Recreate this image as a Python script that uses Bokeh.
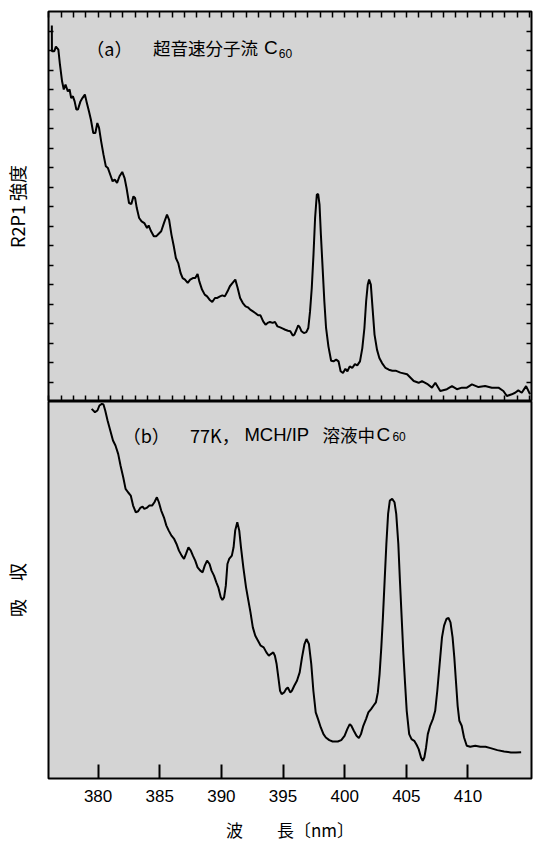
from bokeh.plotting import figure
from bokeh.models import Range1d, LinearAxis, FixedTicker, Label
from bokeh.layouts import column
from bokeh.embed import file_html
from bokeh.resources import INLINE

# ---------------- data ----------------
# (a) supersonic jet C60, R2PI intensity (arbitrary units, one unit = one side tick)
wl_a = [376.25, 376.26, 376.45, 376.58, 376.78, 376.91, 377.08, 377.22, 377.36, 377.55,
        377.69, 377.82, 377.96, 378.10, 378.24, 378.37, 378.57, 378.73, 378.93, 379.06,
        379.26, 379.42, 379.61, 379.78, 379.94, 380.08, 380.25, 380.44, 380.63, 380.80,
        380.99, 381.18, 381.35, 381.54, 381.74, 381.96, 382.15, 382.31, 382.51, 382.70,
        382.87, 383.00, 383.14, 383.33, 383.53, 383.75, 383.97, 384.10, 384.30, 384.52,
        384.71, 384.90, 385.12, 385.34, 385.59, 385.76, 385.95, 386.14, 386.31, 386.50,
        386.69, 386.86, 387.05, 387.27, 387.47, 387.69, 387.88, 388.07, 388.21, 388.43,
        388.65, 388.84, 389.04, 389.26, 389.48, 389.67, 389.89, 390.08, 390.28, 390.50,
        390.69, 390.91, 391.13, 391.32, 391.52, 391.74, 391.96, 392.15, 392.34, 392.56,
        392.75, 392.98, 393.17, 393.39, 393.58, 393.75, 393.94, 394.16, 394.35, 394.55,
        394.77, 394.99, 395.18, 395.40, 395.59, 395.79, 395.92, 396.09, 396.23, 396.36,
        396.50, 396.69, 396.89, 397.05, 397.19, 397.33, 397.47, 397.60, 397.74, 397.85,
        397.96, 398.07, 398.21, 398.35, 398.49, 398.68, 398.90, 399.09, 399.31, 399.50,
        399.67, 399.86, 400.06, 400.22, 400.41, 400.61, 400.83, 401.02, 401.24, 401.43,
        401.60, 401.74, 401.87, 401.98, 402.12, 402.26, 402.42, 402.62, 402.81, 403.03,
        403.31, 403.58, 403.86, 404.13, 404.52,
        405.06, 405.60, 406.00, 406.27, 406.68, 407.08, 407.35, 407.75, 408.29, 408.70,
        409.10, 409.51, 409.91, 410.32, 410.85, 411.39, 411.93, 412.47, 412.87, 413.15,
        413.55, 413.82, 414.08, 414.36, 414.71, 415.03]
int_a = [18.28, 16.96, 16.96, 17.20, 17.04, 16.27, 15.42, 15.00, 15.25, 14.90,
         15.00, 14.56, 14.65, 14.39, 13.97, 13.97, 14.39, 14.56, 14.74, 14.39,
         13.88, 13.45, 12.77, 12.77, 13.28, 13.03, 12.34, 11.66, 11.06, 10.97,
         10.63, 10.29, 10.38, 10.21, 10.55, 10.77, 10.46, 9.95, 9.18, 9.13,
         9.52, 9.44, 8.92, 8.41, 8.24, 8.15, 7.90, 8.03, 7.73, 7.47,
         7.47, 7.59, 7.73, 8.15, 8.58, 8.32, 7.56, 6.96, 6.36, 6.10,
         5.59, 5.33, 5.25, 5.08, 5.25, 5.33, 5.33, 5.54, 5.16, 4.74,
         4.48, 4.39, 4.22, 4.10, 4.31, 4.31, 4.39, 4.44, 4.39, 4.65,
         4.91, 5.08, 5.25, 4.82, 4.31, 4.05, 3.88, 3.83, 3.71, 3.62,
         3.54, 3.42, 3.42, 3.11, 2.94, 3.03, 3.08, 3.03, 3.08, 2.85,
         2.80, 2.74, 2.68, 2.63, 2.60, 2.38, 2.43, 2.68, 2.91, 2.80,
         2.60, 2.51, 2.56, 2.77, 3.62, 4.82, 6.53, 8.41, 9.61, 9.64,
         9.09, 7.56, 5.85, 4.14, 2.77, 1.83, 1.09, 1.06, 1.15, 1.06,
         0.55, 0.46, 0.68, 0.55, 0.80, 0.72, 0.92, 0.85, 1.06, 1.74,
         2.77, 4.14, 4.99, 5.25, 4.99, 3.79, 2.43, 1.66, 1.23, 0.97,
         0.72, 0.63, 0.58, 0.58, 0.48,
         0.40, 0.05, -0.04, 0.05, -0.09, -0.29, -0.04, -0.46, -0.37, -0.21,
         -0.37, -0.29, -0.29, -0.12, -0.26, -0.21, -0.29, -0.29, -0.46, -0.72,
         -0.63, -0.55, -0.43, -0.55, -0.21, -0.63]

# (b) 77 K, C60 in MCH/IP solution, absorption (arbitrary units)
wl_b = [379.48, 379.75, 379.95, 380.11, 380.31, 380.44, 380.58, 380.77, 380.99, 381.21,
        381.41, 381.63, 381.82, 382.04, 382.23, 382.43, 382.65, 382.84, 383.06, 383.25,
        383.42, 383.61, 383.75, 383.94, 384.16, 384.38, 384.57, 384.77, 384.93, 385.12,
        385.34, 385.54, 385.73, 385.95, 386.17, 386.36, 386.56, 386.78, 386.97, 387.13,
        387.33, 387.52, 387.69, 387.88, 388.07, 388.29, 388.48, 388.65, 388.84, 389.04,
        389.20, 389.40, 389.59, 389.75, 389.95, 390.08, 390.22, 390.36, 390.49, 390.63,
        390.85, 390.99, 391.12, 391.29, 391.45, 391.59, 391.78, 392.00, 392.19, 392.36,
        392.55, 392.75, 392.97, 393.19, 393.43, 393.65, 393.85, 394.01, 394.21, 394.34,
        394.48, 394.62, 394.76, 394.89, 395.09, 395.25, 395.39, 395.58, 395.72, 395.91,
        396.13, 396.35, 396.54, 396.74, 396.90, 397.10, 397.29, 397.46, 397.65, 397.84,
        398.06, 398.28, 398.47, 398.75, 399.02, 399.44, 399.72, 399.99, 400.21, 400.41,
        400.54, 400.74, 400.96, 401.15, 401.32, 401.51, 401.73, 401.92, 402.14, 402.33,
        402.53, 402.69, 402.83, 402.97, 403.10, 403.24, 403.38, 403.52, 403.66, 403.85,
        404.04, 404.18, 404.35, 404.48, 404.62, 404.76, 404.90, 405.03, 405.23, 405.42,
        405.64, 405.83, 406.00, 406.19, 406.33, 406.46, 406.60, 406.74, 406.93, 407.15,
        407.34, 407.51, 407.70, 407.89, 408.06, 408.25, 408.42, 408.58, 408.75, 408.89,
        409.02, 409.16, 409.30, 409.49, 409.68, 409.90, 410.18, 410.59, 411.00, 411.42,
        411.83, 412.38, 412.93, 413.48, 413.89, 414.31]
abs_b = [11.08, 10.98, 11.03, 11.18, 11.23, 11.21, 11.03, 10.73, 10.43, 10.13,
         9.98, 9.73, 9.38, 9.03, 8.68, 8.58, 8.48, 8.18, 7.98, 8.01,
         8.11, 8.15, 8.08, 8.11, 8.18, 8.18, 8.28, 8.43, 8.28, 8.03,
         7.83, 7.58, 7.43, 7.28, 7.18, 7.03, 6.83, 6.68, 6.58, 6.73,
         6.93, 6.83, 6.68, 6.53, 6.33, 6.23, 6.18, 6.38, 6.53, 6.43,
         6.23, 6.08, 5.88, 5.73, 5.43, 5.35, 5.43, 5.78, 6.43, 6.58,
         6.68, 6.93, 7.43, 7.68, 7.43, 6.93, 6.33, 5.73, 5.33, 4.98,
         4.53, 4.28, 4.13, 3.98, 3.93, 3.78, 3.68, 3.73, 3.78, 3.68,
         3.43, 3.03, 2.63, 2.53, 2.58, 2.68, 2.73, 2.58, 2.63, 2.78,
         2.93, 3.18, 3.63, 4.03, 4.18, 4.03, 3.43, 2.63, 1.98, 1.78,
         1.53, 1.33, 1.23, 1.15, 1.11, 1.11, 1.15, 1.28, 1.48, 1.63,
         1.58, 1.43, 1.28, 1.21, 1.33, 1.58, 1.78, 1.98, 2.08, 2.18,
         2.28, 2.58, 3.13, 3.93, 4.83, 5.93, 7.03, 7.93, 8.33, 8.38,
         8.28, 7.93, 7.03, 5.93, 4.83, 3.73, 2.83, 2.03, 1.33, 1.18,
         1.13, 1.01, 0.88, 0.63, 0.53, 0.63, 0.93, 1.33, 1.58, 1.78,
         2.03, 2.63, 3.43, 4.23, 4.58, 4.78, 4.81, 4.68, 4.23, 3.63,
         2.93, 2.18, 1.73, 1.58, 1.23, 0.98, 0.95, 0.98, 0.95, 0.95,
         0.91, 0.85, 0.81, 0.78, 0.78, 0.79]

x_major = [380, 385, 390, 395, 400, 405, 410]
x_minor_a = list(range(376, 416))
y_side_ticks_a = list(range(0, 19))

title_a_tag = "（a）"
title_a_text = "超音速分子流"
title_b_tag = "（b）"
title_b_temp = "77K，"
title_b_solv = "MCH/IP"
title_b_text = "溶液中"
c_letter = "C"
sub_60 = "60"
ylabel_a = "R2P1 強度"
ylabel_b = "吸　収"
xlabel = "波　　長〔nm〕"

# ---------------- style ----------------
CJK = "Noto Sans CJK JP"
LAT = "Liberation Sans"
BG = "#d4d4d4"
XR = Range1d(375.98, 415.15)


def tick_axis(minor, tin):
    # axis that draws only (unlabelled) inward tick marks
    return LinearAxis(ticker=FixedTicker(ticks=[], minor_ticks=minor),
                      major_tick_in=0, major_tick_out=0,
                      minor_tick_in=tin, minor_tick_out=0,
                      minor_tick_line_width=1.5, minor_tick_line_color="black",
                      major_label_standoff=0, axis_line_color=None)


common = dict(x_range=XR, x_axis_type=None, y_axis_type=None,
              output_backend="svg", toolbar_location=None,
              background_fill_color=BG, border_fill_color="white",
              outline_line_color="black", outline_line_width=2,
              min_border_left=47, min_border_right=3)


def add_text(p, x, y, text, font, size):
    p.add_layout(Label(x=x, y=y, text=text, text_font=font, text_font_size=size,
                       text_baseline="middle", text_align="left", text_color="black"))


# top panel
p1 = figure(width=534, height=401, y_range=Range1d(-1, 19),
            min_border_top=11, min_border_bottom=0, **common)
p1.add_layout(tick_axis(x_minor_a, 6), "below")
p1.add_layout(tick_axis(x_minor_a, 6), "above")
la = tick_axis(y_side_ticks_a, 5)
la.axis_label = ylabel_a
la.axis_label_text_font = CJK
la.axis_label_text_font_size = "18px"
la.axis_label_text_font_style = "normal"
la.axis_label_text_color = "black"
la.axis_label_standoff = 19
p1.add_layout(la, "left")
p1.add_layout(tick_axis(y_side_ticks_a, 5), "right")

p1.line(wl_a, int_a, line_color="black", line_width=2)
add_text(p1, 379.05, 17.13, title_a_tag, CJK, "18px")
add_text(p1, 384.45, 17.13, title_a_text, CJK, "17.5px")
add_text(p1, 393.45, 17.13, c_letter, LAT, "19px")
add_text(p1, 394.65, 16.87, sub_60, LAT, "12px")

# bottom panel
p2 = figure(width=534, height=443, y_range=Range1d(0, 11.3),
            min_border_top=0, min_border_bottom=66, **common)
bx = LinearAxis(ticker=FixedTicker(ticks=x_major, minor_ticks=[]),
                major_tick_in=14, major_tick_out=0, minor_tick_in=0, minor_tick_out=0,
                major_tick_line_width=2, major_tick_line_color="black",
                axis_line_color=None,
                major_label_text_font=LAT, major_label_text_font_size="17px",
                major_label_text_color="black", major_label_standoff=11,
                axis_label=xlabel, axis_label_text_font=CJK,
                axis_label_text_font_size="17px", axis_label_text_font_style="normal",
                axis_label_text_color="black", axis_label_standoff=12)
p2.add_layout(bx, "below")
lb = tick_axis([], 0)
lb.axis_label = ylabel_b
lb.axis_label_text_font = CJK
lb.axis_label_text_font_size = "18px"
lb.axis_label_text_font_style = "normal"
lb.axis_label_text_color = "black"
lb.axis_label_standoff = 19
p2.add_layout(lb, "left")

p2.line(wl_b, abs_b, line_color="black", line_width=2)
add_text(p2, 382.0, 10.31, title_b_tag, CJK, "18px")
add_text(p2, 387.46, 10.31, title_b_temp, CJK, "18px")
add_text(p2, 391.87, 10.31, title_b_solv, LAT, "18.5px")
add_text(p2, 398.21, 10.31, title_b_text, CJK, "17.5px")
add_text(p2, 402.58, 10.31, c_letter, LAT, "19px")
add_text(p2, 403.87, 10.25, sub_60, LAT, "12px")

layout = column(p1, p2, spacing=0)
open("out.html", "w").write(file_html(layout, INLINE))
